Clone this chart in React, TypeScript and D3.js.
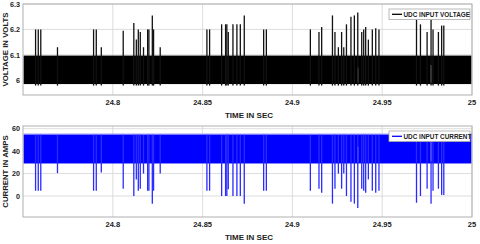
import { useEffect, useRef } from "react";
import * as d3 from "d3";

// x-axis
const timeDomain = [24.75, 25];
const timeTicks = [24.8, 24.85, 24.9, 24.95, 25];

// top panel
const voltDomain = [5.942, 6.3];
const voltTicks = [6, 6.1, 6.2, 6.3];
const voltBand = [5.985, 6.097];
const voltDip = 5.979;

// bottom panel
const ampDomain = [-18.7, 62.4];
const ampTicks = [0, 20, 40, 60];
const ampBand = [29, 54.5];
const ampFringe = 55.6;

// switching events: time, voltage peak, current dip
const spikeTimes = [
  24.757, 24.7585, 24.7599, 24.7692, 24.7893, 24.7908, 24.7936, 24.8058,
  24.8117, 24.8131, 24.8142, 24.8153, 24.8171, 24.8194, 24.8201, 24.822,
  24.8227, 24.8264, 24.8524, 24.8539, 24.8606, 24.8628, 24.8635, 24.8643,
  24.8669, 24.8691, 24.871, 24.8732, 24.884, 24.8855, 24.91, 24.9148,
  24.9163, 24.9223, 24.9237, 24.9256, 24.9274, 24.9286, 24.9301, 24.9326,
  24.9345, 24.9364, 24.9386, 24.9397, 24.9408, 24.9423, 24.9445, 24.9464,
  24.9482, 24.9691, 24.9713, 24.975, 24.9772, 24.9783, 24.9813, 24.9831,
  24.9843,
];
const voltPeaks = [
  6.2, 6.2, 6.2, 6.13, 6.2, 6.2, 6.13, 6.195,
  6.225, 6.16, 6.2, 6.19, 6.13, 6.2, 6.2, 6.255,
  6.2, 6.13, 6.2, 6.2, 6.22, 6.22, 6.22, 6.19,
  6.22, 6.22, 6.22, 6.255, 6.2, 6.2, 6.2, 6.19,
  6.21, 6.255, 6.19, 6.13, 6.19, 6.13, 6.22, 6.25,
  6.255, 6.267, 6.19, 6.2, 6.21, 6.16, 6.2, 6.205,
  6.2, 6.24, 6.22, 6.19, 6.24, 6.2, 6.19, 6.215,
  6.215,
];
const ampDips = [
  4.7, 4.7, 4.7, 20.4, 4.7, 4.7, 21, 6.5,
  0, 14.8, 4.7, 6.5, 20, 4.7, 4.7, -6.8,
  4.7, 20, 4.7, 4.7, 0, 0, 0, 6,
  0, 0, 0, -6.8, 4.7, 4.7, 4.7, 6.5,
  3, -6.8, 6.5, 20, 6.5, 20, 0, -5,
  -6.8, -10.7, 6.5, 4.7, 3, 14.8, 4.7, 3,
  4.7, -6, 0, 6.5, -6.8, 4.7, 6.5, 1,
  1,
];

// white gaps seen inside the bands
const voltGaps = [
  { t: 24.9364, lo: 5.99, hi: 6.05 },
  { t: 24.9772, lo: 5.99, hi: 6.06 },
];
const ampGaps = [
  { t: 24.9364, lo: 30, hi: 44 },
  { t: 24.9772, lo: 31, hi: 52 },
];

const W = 480;
const H = 244;
const FONT = "'Liberation Sans', Arial, sans-serif";

export default function App() {
  const ref = useRef<SVGSVGElement>(null);

  useEffect(() => {
    const svg = d3.select(ref.current);
    svg.selectAll("*").remove();

    const x = d3.scaleLinear().domain(timeDomain).range([23, 472]);

    function panel(opts: {
      top: number;
      bottom: number;
      domain: number[];
      ticks: number[];
      fmt: (d: number) => string;
      band: number[];
      fringe: number | null;
      fringeColor: string;
      color: string;
      spikeColor: string;
      spikeTo: number[];
      spikeFrom: number;
      gaps: { t: number; lo: number; hi: number }[];
      yTitle: string;
      legend: string;
      legendColor: string;
    }) {
      const y = d3.scaleLinear().domain(opts.domain).range([opts.bottom, opts.top]);
      const g = svg.append("g");
      const [x0, x1] = x.range();

      g.append("rect")
        .attr("x", x0)
        .attr("y", opts.top)
        .attr("width", x1 - x0)
        .attr("height", opts.bottom - opts.top)
        .attr("fill", "#fff");

      // grid
      g.selectAll("line.gx")
        .data(timeTicks)
        .join("line")
        .attr("x1", (d) => x(d))
        .attr("x2", (d) => x(d))
        .attr("y1", opts.top)
        .attr("y2", opts.bottom)
        .attr("stroke", "#d4d4d4")
        .attr("stroke-width", 0.8);
      g.selectAll("line.gy")
        .data(opts.ticks)
        .join("line")
        .attr("x1", x0)
        .attr("x2", x1)
        .attr("y1", (d) => y(d))
        .attr("y2", (d) => y(d))
        .attr("stroke", "#d4d4d4")
        .attr("stroke-width", 0.8);

      // thin ragged edge above the band
      if (opts.fringe !== null) {
        g.append("rect")
          .attr("x", x0 + 0.5)
          .attr("y", y(opts.fringe))
          .attr("width", x1 - x0 - 1)
          .attr("height", y(opts.band[1]) - y(opts.fringe))
          .attr("fill", opts.fringeColor);
      }

      // dense switching band
      g.append("rect")
        .attr("x", x0 + 0.5)
        .attr("y", y(opts.band[1]))
        .attr("width", x1 - x0 - 1)
        .attr("height", y(opts.band[0]) - y(opts.band[1]))
        .attr("fill", opts.color);

      g.selectAll("line.gap")
        .data(opts.gaps)
        .join("line")
        .attr("x1", (d) => x(d.t))
        .attr("x2", (d) => x(d.t))
        .attr("y1", (d) => y(d.lo))
        .attr("y2", (d) => y(d.hi))
        .attr("stroke", "#fff")
        .attr("stroke-width", 0.9);

      // spikes
      g.selectAll("line.spike")
        .data(spikeTimes)
        .join("line")
        .attr("x1", (d) => x(d))
        .attr("x2", (d) => x(d))
        .attr("y1", y(opts.spikeFrom))
        .attr("y2", (_, i) => y(opts.spikeTo[i]))
        .attr("stroke", opts.spikeColor)
        .attr("stroke-width", 1.3);

      // box
      g.append("rect")
        .attr("x", x0)
        .attr("y", opts.top)
        .attr("width", x1 - x0)
        .attr("height", opts.bottom - opts.top)
        .attr("fill", "none")
        .attr("stroke", "#b0b0b0")
        .attr("stroke-width", 1);

      // tick labels
      g.selectAll("text.tx")
        .data(timeTicks)
        .join("text")
        .attr("x", (d) => x(d))
        .attr("y", opts.bottom + 10)
        .attr("text-anchor", "middle")
        .attr("font-family", FONT)
        .attr("font-weight", "bold")
        .attr("font-size", 7.5)
        .attr("fill", "#222")
        .text((d) => d3.format("")(d));
      g.selectAll("text.ty")
        .data(opts.ticks)
        .join("text")
        .attr("x", x0 - 3)
        .attr("y", (d) => y(d) + 2.7)
        .attr("text-anchor", "end")
        .attr("font-family", FONT)
        .attr("font-weight", "bold")
        .attr("font-size", 7.2)
        .attr("fill", "#222")
        .text((d) => opts.fmt(d));

      // titles
      g.append("text")
        .attr("x", 249)
        .attr("y", opts.bottom + 23)
        .attr("text-anchor", "middle")
        .attr("font-family", FONT)
        .attr("font-weight", "bold")
        .attr("font-size", 8)
        .attr("fill", "#222")
        .text("TIME IN SEC");
      g.append("text")
        .attr(
          "transform",
          `translate(8.3,${(opts.top + opts.bottom) / 2}) rotate(-90)`
        )
        .attr("text-anchor", "middle")
        .attr("font-family", FONT)
        .attr("font-weight", "bold")
        .attr("font-size", 7.8)
        .attr("fill", "#222")
        .text(opts.yTitle);

      // legend
      const lx = 389;
      const ly = opts.top + 5;
      g.append("rect")
        .attr("x", lx)
        .attr("y", ly)
        .attr("width", 81)
        .attr("height", 10.5)
        .attr("fill", "#fff")
        .attr("stroke", "#a8a8a8")
        .attr("stroke-width", 0.8);
      g.append("line")
        .attr("x1", lx + 3)
        .attr("x2", lx + 13)
        .attr("y1", ly + 5.3)
        .attr("y2", ly + 5.3)
        .attr("stroke", opts.legendColor)
        .attr("stroke-width", 1.3);
      g.append("text")
        .attr("x", lx + 14.5)
        .attr("y", ly + 7.6)
        .attr("font-family", FONT)
        .attr("font-weight", "bold")
        .attr("font-size", 6.4)
        .attr("fill", "#222")
        .text(opts.legend);
    }

    panel({
      top: 4,
      bottom: 95,
      domain: voltDomain,
      ticks: voltTicks,
      fmt: (d) => (d === 6 ? "6" : d3.format(".1f")(d)),
      band: voltBand,
      fringe: null,
      fringeColor: "#000",
      color: "#000",
      spikeColor: "#111",
      spikeTo: voltPeaks,
      spikeFrom: voltDip,
      gaps: voltGaps,
      yTitle: "VOLTAGE IN VOLTS",
      legend: "UDC INPUT VOLTAGE",
      legendColor: "#000",
    });

    panel({
      top: 126,
      bottom: 217,
      domain: ampDomain,
      ticks: ampTicks,
      fmt: (d) => String(d),
      band: ampBand,
      fringe: ampFringe,
      fringeColor: "#7a7aff",
      color: "#0000ff",
      spikeColor: "#2a2aff",
      spikeTo: ampDips,
      spikeFrom: ampBand[1],
      gaps: ampGaps,
      yTitle: "CURRENT IN AMPS",
      legend: "UDC INPUT CURRENT",
      legendColor: "#0000ff",
    });
  });

  return (
    <svg
      ref={ref}
      width={W}
      height={H}
      style={{ position: "absolute", left: 0, top: 0, background: "#fff" }}
    ></svg>
  );
}
